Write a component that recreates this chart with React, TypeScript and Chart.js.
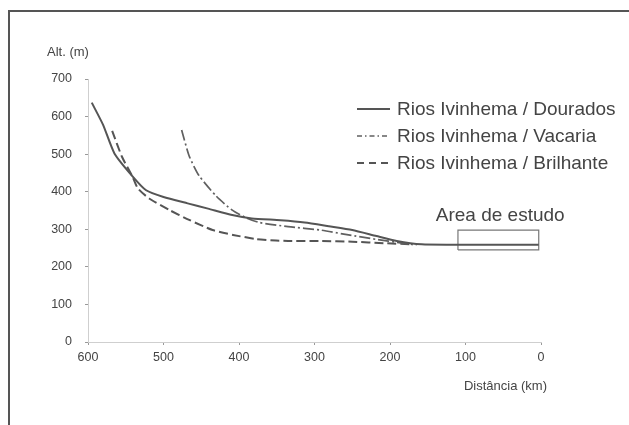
import React, { useEffect, useRef } from "react";
import { Chart, registerables } from "chart.js";

Chart.register(...registerables);

// Distance (km) and altitude (m)
const xDourados = [595, 580, 565, 541, 523, 500, 468, 441, 409, 383, 345, 313, 281, 250, 218, 191, 158, 120, 60, 3];
const yDourados = [637, 578, 502, 441, 404, 386, 369, 355, 338, 329, 324, 318, 308, 298, 282, 269, 260, 259, 259, 259];

const xVacaria = [476, 466, 453, 430, 409, 390, 373, 335, 292, 255, 218, 186, 165];
const yVacaria = [564, 495, 443, 388, 351, 330, 318, 307, 298, 285, 273, 264, 258];

const xBrilhante = [568, 555, 541, 534, 519, 492, 466, 435, 408, 377, 351, 335, 292, 250, 207, 170];
const yBrilhante = [562, 493, 440, 409, 382, 351, 325, 298, 285, 274, 270, 269, 269, 267, 263, 260];

// study-area rectangle corners
const xArea = [110, 3, 3, 110, 110];
const yArea = [245, 245, 298, 298, 245];

const seriesLabels = ["Rios Ivinhema / Dourados", "Rios Ivinhema / Vacaria", "Rios Ivinhema / Brilhante"];
const areaLabel = "Area de estudo";
const yTitle = "Alt. (m)";
const xTitle = "Distância (km)";

const toPoints = (xs: number[], ys: number[]) => xs.map((x, i) => ({ x, y: ys[i] }));

const FONT = "'Liberation Sans', Arial, Helvetica, sans-serif";
const LINE = "#555555";
const TEXT = "#444444";

const annotations = {
  id: "annotations",
  afterDatasetsDraw(chart: any) {
    const { ctx, chartArea, scales } = chart;
    ctx.save();
    // axis titles
    ctx.fillStyle = TEXT;
    ctx.font = `13px ${FONT}`;
    ctx.textBaseline = "middle";
    ctx.textAlign = "left";
    ctx.fillText(yTitle, chartArea.left - 41, chartArea.top - 27);
    ctx.textAlign = "right";
    ctx.fillText(xTitle, chartArea.right + 6, chartArea.bottom + 44);

    // study area label
    ctx.font = `19px ${FONT}`;
    ctx.textAlign = "center";
    ctx.fillText(areaLabel, scales.x.getPixelForValue(54), scales.y.getPixelForValue(335));

    // legend
    const lx = 357;
    const rows = [109, 136, 163];
    chart.data.datasets.slice(0, 3).forEach((ds: any, i: number) => {
      const y = rows[i];
      ctx.beginPath();
      ctx.strokeStyle = ds.borderColor;
      ctx.lineWidth = ds.borderWidth;
      ctx.setLineDash(ds.legendDash || []);
      ctx.moveTo(lx, y);
      ctx.lineTo(lx + 33, y);
      ctx.stroke();
      ctx.setLineDash([]);
      ctx.fillStyle = TEXT;
      ctx.font = `19px ${FONT}`;
      ctx.textAlign = "left";
      ctx.textBaseline = "middle";
      ctx.fillText(ds.label, lx + 40, y + 1);
    });
    ctx.restore();
  },
};

export default function App() {
  const canvasRef = useRef<HTMLCanvasElement | null>(null);

  useEffect(() => {
    if (!canvasRef.current) return;
    Chart.defaults.font.family = FONT;
    const chart = new Chart(canvasRef.current, {
      type: "scatter",
      data: {
        datasets: [
          {
            label: seriesLabels[0],
            data: toPoints(xDourados, yDourados),
            showLine: true,
            borderColor: LINE,
            borderWidth: 2,
            pointRadius: 0,
            tension: 0.2,
            legendDash: [],
          } as any,
          {
            label: seriesLabels[1],
            data: toPoints(xVacaria, yVacaria),
            showLine: true,
            borderColor: "#606060",
            borderWidth: 1.7,
            borderDash: [11, 3, 2, 3],
            pointRadius: 0,
            tension: 0.2,
            legendDash: [5, 3, 1.5, 3],
          },
          {
            label: seriesLabels[2],
            data: toPoints(xBrilhante, yBrilhante),
            showLine: true,
            borderColor: LINE,
            borderWidth: 2,
            borderDash: [9, 4],
            pointRadius: 0,
            tension: 0.2,
            legendDash: [7, 5],
          },
          {
            label: areaLabel,
            data: toPoints(xArea, yArea),
            showLine: true,
            borderColor: "#777777",
            borderWidth: 1.2,
            pointRadius: 0,
            tension: 0,
          },
        ],
      },
      options: {
        animation: false,
        responsive: true,
        maintainAspectRatio: false,
        layout: { padding: { left: 0, top: 79, right: 88, bottom: 0 } },
        plugins: { legend: { display: false }, tooltip: { enabled: false } },
        scales: {
          x: {
            type: "linear",
            reverse: true,
            min: 0,
            max: 600,
            ticks: { stepSize: 100, color: TEXT, font: { size: 12.5 }, padding: 5 },
            grid: { drawOnChartArea: false, drawTicks: true, tickLength: 3, color: "#999" },
            border: { color: "#cfcfcf", width: 1 },
            afterFit: (s: any) => {
              s.height = 425 - 342;
            },
          },
          y: {
            type: "linear",
            min: 0,
            max: 700,
            ticks: { stepSize: 100, color: TEXT, font: { size: 12.5 }, padding: 13 },
            grid: { drawOnChartArea: false, drawTicks: true, tickLength: 3, color: "#999" },
            border: { color: "#cfcfcf", width: 1 },
            afterFit: (s: any) => {
              s.width = 88;
            },
          },
        },
      } as any,
      plugins: [annotations],
    });
    return () => chart.destroy();
  }, []);

  return (
    <div style={{ position: "fixed", left: 0, top: 0, width: 629, height: 425, background: "#fff" }}>
      <div
        style={{
          position: "absolute",
          left: 8,
          top: 10,
          right: 0,
          bottom: 0,
          borderLeft: "2px solid #555",
          borderTop: "2px solid #555",
        }}
      />
      <div style={{ position: "absolute", left: 0, top: 0, width: 629, height: 425 }}>
        <canvas ref={canvasRef} />
      </div>
    </div>
  );
}
